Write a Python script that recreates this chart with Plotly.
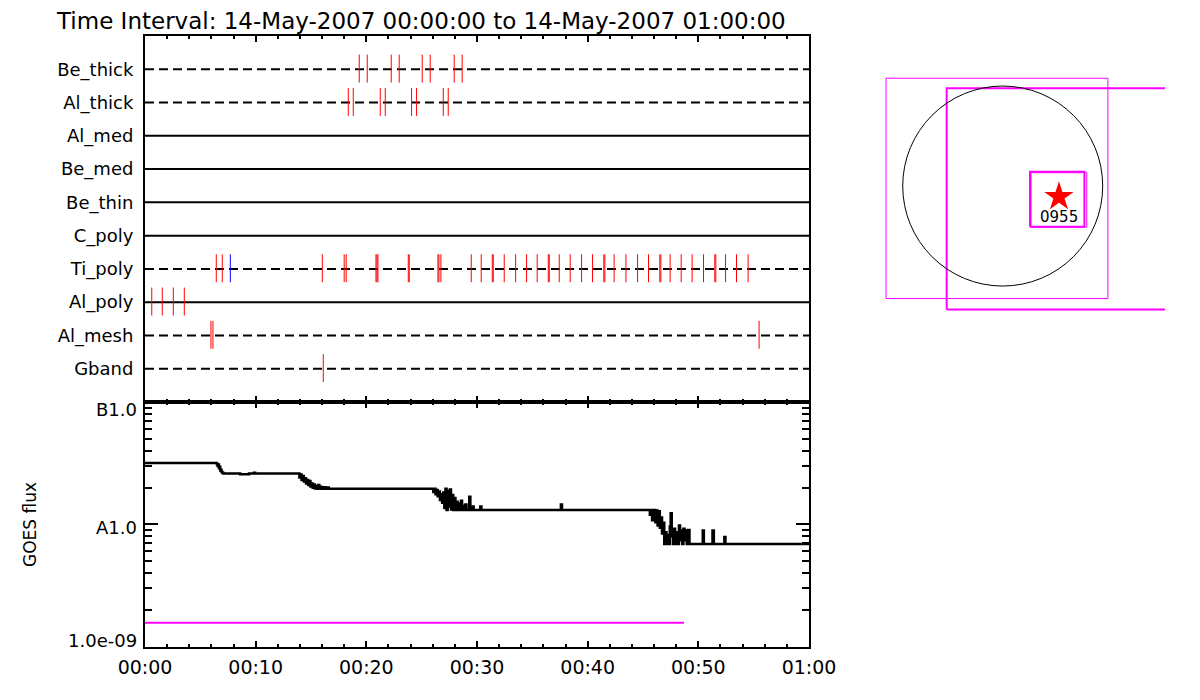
import plotly.graph_objects as go

# ---------------- data ----------------
title_text = "Time Interval: 14-May-2007 00:00:00 to 14-May-2007 01:00:00"

row_names = ["Be_thick", "Al_thick", "Al_med", "Be_med", "Be_thin",
             "C_poly", "Ti_poly", "Al_poly", "Al_mesh", "Gband"]
row_dashed = [True, True, False, False, False, False, True, False, True, True]

# event times (minutes after 00:00) per filter row
be_thick_t = [19.36, 20.08, 22.25, 22.97, 25.05, 25.77, 27.94, 28.66]
al_thick_t = [18.37, 18.82, 21.26, 21.71, 24.09, 24.54, 26.95, 27.40]
ti_poly_red_t = [6.44, 6.98, 16.02, 18.00, 18.18, 20.87, 20.96, 21.05, 23.79, 23.88,
                 26.47, 26.56, 26.74, 29.48, 30.38, 31.38, 31.47, 32.46, 33.49, 34.48,
                 35.44, 36.44, 36.53, 37.43, 38.42, 39.45, 40.44, 41.46, 41.55, 42.39,
                 43.46, 44.51, 45.50, 46.52, 46.61, 47.45, 48.45, 49.44, 50.47, 51.49,
                 51.58, 52.46, 53.45, 54.50]
ti_poly_blue_t = [7.71]
al_poly_t = [0.61, 1.56, 2.56, 3.55]
al_mesh_t = [5.96, 6.14, 55.49]
gband_t = [16.11]

time_tick_vals = [0, 10, 20, 30, 40, 50, 60]
time_tick_text = ["00:00", "00:10", "00:20", "00:30", "00:40", "00:50", "01:00"]
time_minor_vals = [2, 4, 6, 8, 12, 14, 16, 18, 22, 24, 26, 28, 32, 34, 36, 38,
                   42, 44, 46, 48, 52, 54, 56, 58]

# GOES flux (minutes, units of 1e-9 W/m^2)
goes_min = [0.00, 6.50, 6.56, 6.62, 6.68, 6.74, 6.80, 6.86, 6.92, 7.00, 7.10,
            8.60, 9.40, 9.85, 9.95,
            13.95, 14.05, 14.15, 14.25, 14.35, 14.45, 14.55, 14.65, 14.75, 14.85,
            14.95, 15.05, 15.15, 15.25, 15.35, 15.45, 15.55, 15.65, 15.75, 15.85,
            15.95, 16.15, 16.30, 16.45, 16.60,
            26.05, 26.15, 26.25, 26.35, 26.45, 26.55, 26.65, 26.75, 26.85, 26.95,
            27.05, 27.15, 27.25, 27.35, 27.45, 27.55, 27.65, 27.75, 27.85, 27.95,
            28.05, 28.15, 28.25, 28.35, 28.45, 28.55, 28.65, 28.75, 28.85, 28.95,
            29.05, 29.30, 29.40, 29.60, 29.70, 30.30, 30.40,
            37.58, 37.68,
            45.62, 45.72, 45.82, 45.92, 46.02, 46.12, 46.22, 46.32, 46.42, 46.52,
            46.62, 46.72, 46.82, 46.92, 47.02, 47.12, 47.22, 47.32, 47.42, 47.50,
            47.60, 47.70, 47.80, 47.90, 48.00, 48.10, 48.25, 48.35, 48.45, 48.55,
            48.65, 48.75, 48.85, 48.95, 49.05, 49.20,
            50.40, 50.50, 51.28, 51.40, 52.35, 52.45, 60.00]
goes_nw = [31.8, 31.0, 30.0, 30.8, 28.8, 29.5, 27.6, 28.0, 26.8, 26.3, 26.0,
           25.7, 26.0, 26.4, 26.0,
           24.2, 25.6, 23.0, 24.8, 22.4, 23.8, 21.6, 23.0, 21.0, 22.6,
           20.4, 21.6, 19.9, 21.2, 19.6, 20.6, 19.5, 21.0, 19.6, 20.3,
           19.5, 20.1, 19.5, 20.0, 19.5,
           18.4, 19.5, 17.6, 19.1, 17.0, 18.6, 15.8, 17.6, 15.0, 18.2,
           13.6, 19.5, 13.1, 18.8, 14.0, 19.3, 13.2, 17.4, 13.1, 16.4,
           13.1, 15.3, 13.1, 14.8, 13.1, 15.6, 13.1, 14.2, 13.1, 14.5,
           13.1, 16.8, 13.1, 14.0, 13.1, 14.0, 13.1,
           14.5, 13.1,
           12.0, 13.1, 10.8, 12.4, 13.1, 10.4, 13.0, 9.8, 12.8, 9.4,
           11.4, 8.4, 10.3, 6.9, 8.6, 6.9, 8.2, 6.9, 9.6, 12.3,
           8.0, 6.9, 9.2, 6.9, 8.6, 6.9, 9.8, 7.4, 8.9, 6.9,
           9.2, 7.4, 8.9, 6.9, 9.0, 6.9,
           8.9, 6.9, 8.9, 6.9, 7.9, 6.9, 6.9]

level_min = [0.0, 48.7]
level_flux = [1.57e-9, 1.57e-9]

flux_tick_vals = [1e-9, 1e-8, 1e-7]
flux_tick_text = ["1.0e-09", "A1.0", "B1.0"]
flux_minor_vals = [2e-9, 3e-9, 4e-9, 5e-9, 6e-9, 7e-9, 8e-9, 9e-9,
                   2e-8, 3e-8, 4e-8, 5e-8, 6e-8, 7e-8, 8e-8, 9e-8]

# solar disk locator (arcsec)
sun_radius = 960
fov_boxes = [(-1120, 1010, -1080, 1035), (-538, 3000, -1184, 938),
             (262, 784, -391, 137), (272, 807, -394, 128)]
fov_widths = [1, 2, 2, 1]
star_xy = (540, -103)
star_label = "0955"
star_label_xy = (540, -298)

# ---------------- figure ----------------
W, H = 1200, 700
OFF = 8  # page body margin
def px(x):
    return (x - OFF) / W
def py(y):
    return 1 - (y - OFF) / H

FONT = "DejaVu Sans"
fig = go.Figure()

# row baselines
for i, (name, dashed) in enumerate(zip(row_names, row_dashed)):
    r = i + 1
    fig.add_trace(go.Scatter(x=[0, 60], y=[r, r], mode="lines",
                             line=dict(color="black", width=2,
                                       dash="9px,5px" if dashed else "solid"),
                             hoverinfo="skip", showlegend=False, xaxis="x", yaxis="y"))

def marks(times, row):
    xs, ys = [], []
    for t in times:
        xs += [t, t, None]
        ys += [row - 0.44, row + 0.40, None]
    return xs, ys

red_x, red_y = [], []
for times, name in [(be_thick_t, "Be_thick"), (al_thick_t, "Al_thick"),
                    (ti_poly_red_t, "Ti_poly"), (al_poly_t, "Al_poly"),
                    (al_mesh_t, "Al_mesh"), (gband_t, "Gband")]:
    xs, ys = marks(times, row_names.index(name) + 1)
    red_x += xs
    red_y += ys
fig.add_trace(go.Scatter(x=red_x, y=red_y, mode="lines",
                         line=dict(color="#ff0000", width=1),
                         hoverinfo="skip", showlegend=False, xaxis="x", yaxis="y"))
bx, by = marks(ti_poly_blue_t, row_names.index("Ti_poly") + 1)
fig.add_trace(go.Scatter(x=bx, y=by, mode="lines",
                         line=dict(color="#0000ff", width=1),
                         hoverinfo="skip", showlegend=False, xaxis="x", yaxis="y"))

# GOES
fig.add_trace(go.Scatter(x=goes_min, y=[v * 1e-9 for v in goes_nw], mode="lines",
                         line=dict(color="black", width=2.5, shape="hv"),
                         hoverinfo="skip", showlegend=False, xaxis="x2", yaxis="y2"))
fig.add_trace(go.Scatter(x=level_min, y=level_flux, mode="lines",
                         line=dict(color="#ff00ff", width=2),
                         hoverinfo="skip", showlegend=False, xaxis="x2", yaxis="y2"))

# locator panel
for (x0, x1, y0, y1), w in zip(fov_boxes, fov_widths):
    fig.add_trace(go.Scatter(x=[x0, x1, x1, x0, x0], y=[y0, y0, y1, y1, y0], mode="lines",
                             line=dict(color="#ff00ff", width=w),
                             hoverinfo="skip", showlegend=False, xaxis="x3", yaxis="y3"))
fig.add_shape(type="circle", xref="x3", yref="y3",
              x0=-sun_radius, x1=sun_radius, y0=-sun_radius, y1=sun_radius,
              line=dict(color="black", width=1))
fig.add_trace(go.Scatter(x=[star_xy[0]], y=[star_xy[1]], mode="markers",
                         marker=dict(symbol="star", size=22, color="#ff0000",
                                     line=dict(width=0)),
                         hoverinfo="skip", showlegend=False, xaxis="x3", yaxis="y3"))
fig.add_annotation(x=star_label_xy[0], y=star_label_xy[1], xref="x3", yref="y3",
                   text=star_label, showarrow=False,
                   font=dict(family=FONT, size=15, color="black"))

axis_common = dict(showline=True, linecolor="black", linewidth=2, showgrid=False,
                   zeroline=False, automargin=False)

fig.update_layout(
    width=W, height=H, margin=dict(l=0, r=0, t=0, b=0, autoexpand=False),
    paper_bgcolor="white", plot_bgcolor="white",
    font=dict(family=FONT, color="black"),
    xaxis=dict(domain=[px(145), px(809)], range=[0, 60], anchor="y",
               mirror="allticks", ticks="inside", ticklen=6, tickwidth=2, tickcolor="black",
               tickmode="array", tickvals=time_tick_vals, showticklabels=False,
               minor=dict(tickmode="array", tickvals=time_minor_vals, ticks="inside",
                          ticklen=3, tickwidth=2, tickcolor="black"),
               **axis_common),
    yaxis=dict(domain=[py(402), py(36)], range=[11, 0], anchor="x",
               mirror=True, ticks="", tickmode="array",
               tickvals=list(range(1, 11)), ticktext=row_names,
               tickfont=dict(size=18, family=FONT), ticklabelstandoff=6,
               **axis_common),
    xaxis2=dict(domain=[px(145), px(809)], range=[0, 60], anchor="y2",
                mirror="allticks", ticks="inside", ticklen=6, tickwidth=2, tickcolor="black",
                tickmode="array", tickvals=time_tick_vals, ticktext=time_tick_text,
                tickfont=dict(size=19, family=FONT), ticklabelstandoff=2,
                minor=dict(tickmode="array", tickvals=time_minor_vals, ticks="inside",
                           ticklen=3, tickwidth=2, tickcolor="black"),
                **axis_common),
    yaxis2=dict(domain=[py(646.7), py(402)], type="log", range=[-9, -7], anchor="x2",
                mirror="allticks", ticks="inside", ticklen=13, tickwidth=2, tickcolor="black",
                tickmode="array", tickvals=flux_tick_vals, showticklabels=False,
                minor=dict(tickmode="array", tickvals=flux_minor_vals, ticks="inside",
                           ticklen=7, tickwidth=2, tickcolor="black"),
                **axis_common),
    xaxis3=dict(domain=[px(880), px(1165)], range=[-1178, 1558], anchor="y3",
                visible=False, showgrid=False, zeroline=False, automargin=False),
    yaxis3=dict(domain=[py(320), py(60)], range=[-1286, 1210], anchor="x3",
                visible=False, showgrid=False, zeroline=False, automargin=False),
)

# flux tick labels, placed like the IDL labels (slightly inside the axis span)
flux_label_y_px = [640, 527, 409]
for txt, ypix in zip(flux_tick_text, flux_label_y_px):
    fig.add_annotation(x=px(139), y=py(ypix), xref="paper", yref="paper",
                       xanchor="right", yanchor="middle", text=txt, showarrow=False,
                       font=dict(family=FONT, size=18, color="black"))

fig.add_annotation(x=px(54), y=py(21), xref="paper", yref="paper", xanchor="left",
                   yanchor="middle", text=title_text, showarrow=False,
                   font=dict(family=FONT, size=23, color="black"))
fig.add_annotation(x=px(30), y=py(525), xref="paper", yref="paper",
                   xanchor="center", yanchor="middle",
                   text="GOES flux", textangle=-90, showarrow=False,
                   font=dict(family=FONT, size=17, color="black"))

fig.write_html("out.html")
